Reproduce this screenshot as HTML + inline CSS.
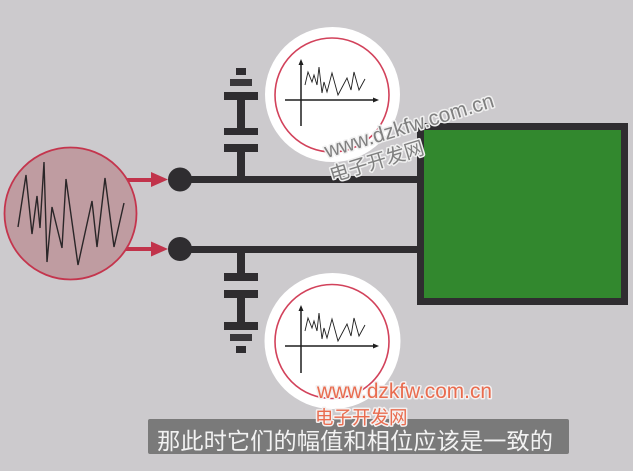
<!DOCTYPE html>
<html><head><meta charset="utf-8"><style>
html,body{margin:0;padding:0;background:#cccacd;}
svg{display:block;}
</style></head><body>
<svg width="633" height="471" viewBox="0 0 633 471" xmlns="http://www.w3.org/2000/svg">
<rect x="0" y="0" width="633" height="471" fill="#cccacd"/>
<!-- green box -->
<rect x="417" y="123" width="211" height="182" fill="#2f2d30"/>
<rect x="424" y="130" width="197" height="168" fill="#32882e"/>
<!-- wires -->
<rect x="180" y="176" width="244" height="7" fill="#2f2d30"/>
<rect x="180" y="246" width="244" height="7" fill="#2f2d30"/>
<circle cx="180" cy="179.5" r="12" fill="#2f2d30"/>
<circle cx="180" cy="249" r="12" fill="#2f2d30"/>
<!-- arrows -->
<rect x="125" y="178" width="30" height="4" fill="#c1334b"/>
<polygon points="151,172 168,179.5 151,187" fill="#c1334b"/>
<rect x="125" y="247" width="30" height="4" fill="#c1334b"/>
<polygon points="151,241.5 168,249 151,256.5" fill="#c1334b"/>
<!-- top capacitor -->
<g fill="#2f2d30">
<rect x="236" y="68" width="10" height="7"/>
<rect x="230" y="79" width="22" height="7" fill="#3a383b"/>
<rect x="224" y="92" width="34" height="8"/>
<rect x="237" y="100" width="8" height="28"/>
<rect x="224" y="128" width="34" height="7"/>
<rect x="224" y="144" width="34" height="8"/>
<rect x="237" y="152" width="8" height="25"/>
<!-- bottom capacitor -->
<rect x="237" y="252" width="8" height="22"/>
<rect x="224" y="273" width="34" height="8"/>
<rect x="224" y="290" width="34" height="8"/>
<rect x="237" y="298" width="8" height="24"/>
<rect x="224" y="322" width="34" height="8"/>
<rect x="230" y="334" width="22" height="7" fill="#3a383b"/>
<rect x="236" y="346" width="10" height="7"/>
</g>
<!-- big left circle -->
<circle cx="70.5" cy="213.5" r="66" fill="#bf9ca1" stroke="#c4354d" stroke-width="1.8"/>
<polyline fill="none" stroke="#2a2628" stroke-width="1.4" stroke-linejoin="miter" points="18,227 26,175 32,234 37,196 40,228 44,162 47,262 52,207 62,248 66,179 78,265 92,201 97,247 105,178 114,247 124,203"/>
<!-- top graph circle -->
<circle cx="332.5" cy="94.5" r="67.5" fill="#ffffff"/>
<circle cx="332" cy="95" r="57" fill="none" stroke="#d2425b" stroke-width="1.6"/>
<g stroke="#1e1e1e" fill="none">
<line x1="301" y1="62" x2="301" y2="126" stroke-width="1.5"/>
<line x1="285" y1="100" x2="376" y2="100" stroke-width="1.5"/>
<polyline stroke-width="0.9" points="305,85 308,72 312,82 314,75 317,85 319,67 322,93 324,82 327,92 332,73 338,95 347,78 351,90 354,72 359,90 365,79"/>
</g>
<polygon points="301,59 298.5,65 303.5,65" fill="#1e1e1e"/>
<polygon points="379,100 373,97.5 373,102.5" fill="#1e1e1e"/>
<!-- bottom graph circle -->
<circle cx="332.5" cy="341" r="68" fill="#ffffff"/>
<circle cx="332" cy="341.5" r="57" fill="none" stroke="#d2425b" stroke-width="1.6"/>
<g stroke="#1e1e1e" fill="none" transform="translate(0,246)">
<line x1="301" y1="62" x2="301" y2="127" stroke-width="1.5"/>
<line x1="285" y1="100" x2="376" y2="100" stroke-width="1.5"/>
<polyline stroke-width="0.9" points="305,85 308,72 312,82 314,75 317,85 319,67 322,93 324,82 327,92 332,73 338,95 347,78 351,90 354,72 359,90 365,79"/>
</g>
<polygon points="301,305 298.5,311 303.5,311" fill="#1e1e1e"/>
<polygon points="379,346 373,343.5 373,348.5" fill="#1e1e1e"/>
<!-- subtitle -->
<rect x="148" y="419" width="421" height="35" rx="2" fill="#7a7a7a"/>
<text x="157" y="449" font-family="'Liberation Sans','Noto Sans CJK SC',sans-serif" font-size="23" fill="#f2f2f2" textLength="396" lengthAdjust="spacingAndGlyphs">那此时它们的幅值和相位应该是一致的</text>
<!-- rotated watermark -->
<g font-family="'Liberation Sans','Noto Sans CJK SC',sans-serif" fill="#808080" stroke="#f0f0f0" stroke-width="3" paint-order="stroke" stroke-linejoin="round">
<text x="327" y="158" font-size="21" transform="rotate(-17 327 158)" textLength="176" lengthAdjust="spacingAndGlyphs">www.dzkfw.com.cn</text>
<text x="332" y="182" font-size="19.5" transform="rotate(-17 332 182)">电子开发网</text>
</g>
<!-- lower watermark -->
<g font-family="'Liberation Sans','Noto Sans CJK SC',sans-serif" fill="#e96c4f" stroke="#f4f0f0" stroke-width="3" paint-order="stroke" stroke-linejoin="round">
<text x="317" y="398" font-size="21" textLength="175" lengthAdjust="spacingAndGlyphs">www.dzkfw.com.cn</text>
<text x="315" y="424" font-size="18.5">电子开发网</text>
</g>
</svg>
</body></html>
